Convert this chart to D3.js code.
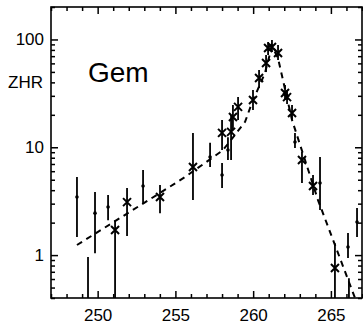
<!DOCTYPE html>
<html>
<head>
<meta charset="utf-8">
<script src="https://cdn.jsdelivr.net/npm/d3@7"></script>
<style>
  body { margin: 0; background: #fff; }
  svg { display: block; }
  text { font-family: "Liberation Sans", Arial, sans-serif; fill: #000; }
</style>
</head>
<body>
<div id="chart"></div>
<script>
// solar longitude (deg) of each point
var starX   = [251.12, 251.89, 254.01, 256.13, 258.0, 258.58, 258.70, 259.03, 259.99, 260.38, 260.83, 260.96, 261.21, 261.60, 262.05, 262.18, 262.5, 263.14, 263.85, 265.26];
var starZHR = [1.71, 3.10, 3.46, 6.56, 13.6, 13.9, 19.1, 23.7, 27.4, 43.9, 60.5, 83.4, 85.1, 74.9, 31.9, 29.2, 20.8, 7.62, 4.37, 0.76];
var starLo  = [0.3, 1.50, 2.45, 3.24, 9.44, 7.62, 14.5, 17.9, 22.2, 35.5, 49.9, 71.8, 76.6, 64.5, 27.4, 25.2, 17.9, 4.66, 3.61, 0.3];
var starHi  = [2.11, 4.19, 4.47, 13.6, 17.9, 19.9, 24.7, 29.2, 34.0, 52.1, 71.8, 94.7, 98.9, 88.8, 37.8, 34.0, 24.7, 9.04, 5.53, 1.29];

var dotX   = [248.67, 249.38, 249.83, 250.67, 252.92, 257.23, 258.0, 258.38, 262.69, 264.30, 266.10, 266.16, 266.68];
var dotZHR = [3.46, 0.3, 2.45, 2.79, 4.37, 8.13, 5.53, 9.44, 11.2, 4.66, 1.19, 0.3, 2.03];
var dotLo  = [1.47, 0.2, 1.04, 2.11, 3.04, 6.56, 4.19, 7.62, 9.85, 2.62, 0.94, 0.2, 1.47];
var dotHi  = [5.3, 0.96, 3.85, 3.61, 6.15, 11.0, 7.14, 12.4, 13.6, 8.13, 1.60, 0.61, 2.73];

// dashed activity profile
var fitX   = [248.67, 254.01, 255.62, 258.06, 259.48, 259.93, 260.76, 261.21, 261.6, 262.5, 264.17, 266.55, 266.9];
var fitZHR = [1.24, 3.77, 5.3, 9.4, 17.2, 26, 48.9, 87, 67, 17.9, 3.24, 0.4, 0.33];

var xMajor = [250, 255, 260, 265];
var yMajor = [1, 10, 100];

var width = 363, height = 325;
var pLeft = 51, pRight = 362, pTop = 7, pBottom = 298;

var x = d3.scaleLinear().domain([247, 267]).range([pLeft, pRight]);
var y = d3.scaleLog().domain([0.4, 200]).range([pBottom, pTop]);

var svg = d3.select('#chart').append('svg')
  .attr('width', width)
  .attr('height', height);

svg.append('clipPath').attr('id', 'clip')
  .append('rect')
  .attr('x', pLeft).attr('y', pTop)
  .attr('width', pRight - pLeft).attr('height', pBottom - pTop);

var xMinor = d3.range(247, 268).filter(function (v) { return xMajor.indexOf(v) < 0; });
var yMinor = [];
[0.1, 1, 10, 100].forEach(function (p) {
  for (var k = 2; k <= 9; k++) {
    var v = k * p;
    if (v >= 0.4 && v <= 200) yMinor.push(+v.toPrecision(3));
  }
});

// ticks (pointing inward)
function drawAxes() {
  var fs = '17px';
  svg.append('g').attr('transform', 'translate(0,' + pBottom + ')')
    .call(d3.axisBottom(x).tickValues(xMajor).tickSize(-7).tickPadding(11).tickFormat(d3.format('d')));
  svg.append('g').attr('transform', 'translate(0,' + pBottom + ')')
    .call(d3.axisBottom(x).tickValues(xMinor).tickSize(-4).tickFormat(''));
  svg.append('g').attr('transform', 'translate(0,' + pTop + ')')
    .call(d3.axisTop(x).tickValues(xMajor).tickSize(-7).tickFormat(''));
  svg.append('g').attr('transform', 'translate(0,' + pTop + ')')
    .call(d3.axisTop(x).tickValues(xMinor).tickSize(-4).tickFormat(''));

  svg.append('g').attr('transform', 'translate(' + pLeft + ',0)')
    .call(d3.axisLeft(y).tickValues(yMajor).tickSize(-7).tickPadding(7).tickFormat(d3.format('d')));
  svg.append('g').attr('transform', 'translate(' + pLeft + ',0)')
    .call(d3.axisLeft(y).tickValues(yMinor).tickSize(-4).tickFormat(''));
  svg.append('g').attr('transform', 'translate(' + pRight + ',0)')
    .call(d3.axisRight(y).tickValues(yMajor).tickSize(-7).tickFormat(''));
  svg.append('g').attr('transform', 'translate(' + pRight + ',0)')
    .call(d3.axisRight(y).tickValues(yMinor).tickSize(-4).tickFormat(''));

  svg.selectAll('.domain').remove();
  svg.selectAll('.tick line').attr('stroke', '#000').attr('stroke-width', 1.5);
  svg.selectAll('.tick text').style('font-size', fs).attr('fill', '#000')
    .style('font-family', '"Liberation Sans", Arial, sans-serif');

  svg.append('rect')
    .attr('x', pLeft).attr('y', pTop)
    .attr('width', pRight - pLeft).attr('height', pBottom - pTop)
    .attr('fill', 'none').attr('stroke', '#000').attr('stroke-width', 1.6);
}
drawAxes();

var plot = svg.append('g').attr('clip-path', 'url(#clip)');

// dashed curve
var fit = fitX.map(function (v, i) { return [v, fitZHR[i]]; });
plot.append('path')
  .datum(fit)
  .attr('d', d3.line().x(function (d) { return x(d[0]); }).y(function (d) { return y(d[1]); }))
  .attr('fill', 'none')
  .attr('stroke', '#000')
  .attr('stroke-width', 2)
  .attr('stroke-dasharray', '6,5');

// dot series
var dots = dotX.map(function (v, i) { return {x: v, v: dotZHR[i], lo: dotLo[i], hi: dotHi[i]}; });
plot.selectAll('.dbar').data(dots).enter().append('line')
  .attr('class', 'dbar')
  .attr('x1', function (d) { return x(d.x); }).attr('x2', function (d) { return x(d.x); })
  .attr('y1', function (d) { return y(d.lo); }).attr('y2', function (d) { return y(d.hi); })
  .attr('stroke', '#000').attr('stroke-width', 1.8);
plot.selectAll('.dot').data(dots).enter().append('circle')
  .attr('class', 'dot')
  .attr('cx', function (d) { return x(d.x); })
  .attr('cy', function (d) { return y(d.v); })
  .attr('r', 1.8).attr('fill', '#000');

// starred series
var stars = starX.map(function (v, i) { return {x: v, v: starZHR[i], lo: starLo[i], hi: starHi[i]}; });
plot.selectAll('.sbar').data(stars).enter().append('line')
  .attr('class', 'sbar')
  .attr('x1', function (d) { return x(d.x); }).attr('x2', function (d) { return x(d.x); })
  .attr('y1', function (d) { return y(d.lo); }).attr('y2', function (d) { return y(d.hi); })
  .attr('stroke', '#000').attr('stroke-width', 1.8);
var s = 4;
plot.selectAll('.star').data(stars).enter().append('path')
  .attr('class', 'star')
  .attr('d', function (d) {
    var cx = x(d.x), cy = y(d.v);
    return 'M' + (cx - s) + ',' + (cy - s) + 'L' + (cx + s) + ',' + (cy + s) +
           'M' + (cx - s) + ',' + (cy + s) + 'L' + (cx + s) + ',' + (cy - s);
  })
  .attr('stroke', '#000').attr('stroke-width', 2);

// labels
svg.append('text').attr('x', 43).attr('y', 88).attr('text-anchor', 'end')
  .style('font-size', '17px').text('ZHR');
svg.append('text').attr('x', 88).attr('y', 82)
  .style('font-size', '28px').text('Gem');
</script>
</body>
</html>
